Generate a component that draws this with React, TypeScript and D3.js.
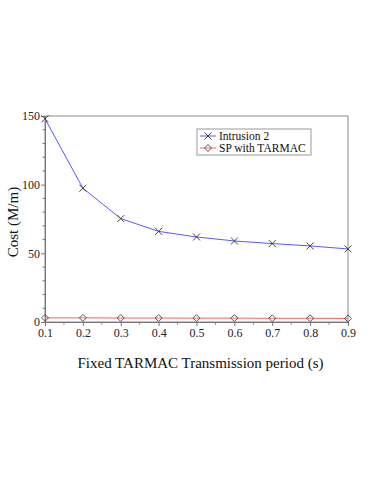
import { useEffect, useRef } from "react";
import * as d3 from "d3";

// values
const periods = [0.1, 0.2, 0.3, 0.4, 0.5, 0.6, 0.7, 0.8, 0.9];
const intrusionCost = [148, 97.4, 75.3, 66, 61.9, 59, 57.1, 55.4, 53.2];
const spCost = [3.0, 3.0, 2.9, 2.9, 2.8, 2.8, 2.7, 2.7, 2.6];
const xTicks = [0.1, 0.2, 0.3, 0.4, 0.5, 0.6, 0.7, 0.8, 0.9];
const yTicks = [0, 50, 100, 150];

const W = 374, H = 484;
const margin = { left: 45, right: 26, top: 116, bottom: 162 };
const FONT = "Liberation Serif, serif";

export default function App() {
    const ref = useRef<SVGSVGElement>(null);

    useEffect(() => {
        const svg = d3.select(ref.current);
        svg.selectAll("*").remove();

        const width = W - margin.left - margin.right;
        const height = H - margin.top - margin.bottom;

        const x = d3.scaleLinear().domain([0.1, 0.9]).range([0, width]);
        const y = d3.scaleLinear().domain([0, 150]).range([height, 0]);

        const g = svg.append("g")
            .attr("transform", `translate(${margin.left},${margin.top})`);

        // frame
        g.append("rect")
            .attr("width", width).attr("height", height)
            .attr("fill", "none").attr("stroke", "#8a8a8a").attr("stroke-width", 1);

        // minor ticks
        const xMinor = d3.range(0.15, 0.9, 0.1);
        g.append("g").selectAll("line").data(xMinor).join("line")
            .attr("x1", (d) => x(d)).attr("x2", (d) => x(d))
            .attr("y1", height).attr("y2", height + 2.5)
            .attr("stroke", "#777");
        const yMinor = d3.range(10, 150, 10).filter((d) => d % 50 !== 0);
        g.append("g").selectAll("line").data(yMinor).join("line")
            .attr("x1", -2.5).attr("x2", 0)
            .attr("y1", (d) => y(d)).attr("y2", (d) => y(d))
            .attr("stroke", "#777");

        // x axis
        const xAxis = g.append("g")
            .attr("transform", `translate(0,${height})`)
            .call(d3.axisBottom(x).tickValues(xTicks).tickFormat(d3.format(".1f")).tickSize(4).tickPadding(2));
        xAxis.select(".domain").attr("stroke", "#777");
        xAxis.selectAll(".tick line").attr("stroke", "#777");
        xAxis.selectAll("text").style("font-family", FONT).attr("font-size", 12).attr("fill", "#222");

        // y axis
        const yAxis = g.append("g")
            .call(d3.axisLeft(y).tickValues(yTicks).tickSize(4).tickPadding(1));
        yAxis.select(".domain").attr("stroke", "#777");
        yAxis.selectAll(".tick line").attr("stroke", "#777");
        yAxis.selectAll("text").style("font-family", FONT).attr("font-size", 12).attr("fill", "#222");

        // lines
        const line = d3.line<number>()
            .x((_, i) => x(periods[i]))
            .y((d) => y(d));

        g.append("path").datum(spCost)
            .attr("d", line).attr("fill", "none").attr("stroke", "#ff6060").attr("stroke-width", 1);
        g.append("path").datum(intrusionCost)
            .attr("d", line).attr("fill", "none").attr("stroke", "#5a5aff").attr("stroke-width", 1);

        // markers
        const cross = (sel: any, cx: number, cy: number) => {
            const s = 3.5;
            sel.append("path")
                .attr("d", `M${cx - s},${cy - s}L${cx + s},${cy + s}M${cx - s},${cy + s}L${cx + s},${cy - s}`)
                .attr("stroke", "#333").attr("stroke-width", 0.9).attr("fill", "none");
        };
        const diamond = (sel: any, cx: number, cy: number) => {
            const s = 3.5;
            sel.append("path")
                .attr("d", `M${cx},${cy - s}L${cx + s},${cy}L${cx},${cy + s}L${cx - s},${cy}Z`)
                .attr("stroke", "#444").attr("stroke-width", 0.9).attr("fill", "none");
        };
        intrusionCost.forEach((d, i) => cross(g, x(periods[i]), y(d)));
        spCost.forEach((d, i) => diamond(g, x(periods[i]), y(d)));

        // legend
        const lg = svg.append("g").attr("transform", "translate(197,129)");
        lg.append("rect").attr("width", 114).attr("height", 26)
            .attr("fill", "white").attr("stroke", "#999").attr("stroke-width", 1);
        const items = [
            { label: "Intrusion 2", color: "#5a5aff", mark: cross },
            { label: "SP with TARMAC", color: "#ff6060", mark: diamond },
        ];
        items.forEach((it, i) => {
            const cy = 7 + i * 12;
            lg.append("line").attr("x1", 3).attr("x2", 19).attr("y1", cy).attr("y2", cy)
                .attr("stroke", it.color);
            it.mark(lg, 11, cy);
            lg.append("text").attr("x", 22).attr("y", cy + 3.5)
                .style("font-family", FONT).attr("font-size", 11.5).attr("fill", "#111")
                .text(it.label);
        });

        // axis labels
        svg.append("text")
            .attr("x", margin.left + width / 2 + 4).attr("y", 368)
            .attr("text-anchor", "middle")
            .style("font-family", FONT).attr("font-size", 15).attr("fill", "#111")
            .text("Fixed TARMAC Transmission period (s)");
        svg.append("text")
            .attr("transform", `translate(18,${margin.top + height / 2 + 3}) rotate(-90)`)
            .attr("text-anchor", "middle")
            .style("font-family", FONT).attr("font-size", 15).attr("fill", "#111")
            .text("Cost (M/m)");
    }, []);

    return (
        <svg ref={ref} width={W} height={H}
            style={{ position: "absolute", left: 0, top: 0, background: "white" }} />
    );
}
